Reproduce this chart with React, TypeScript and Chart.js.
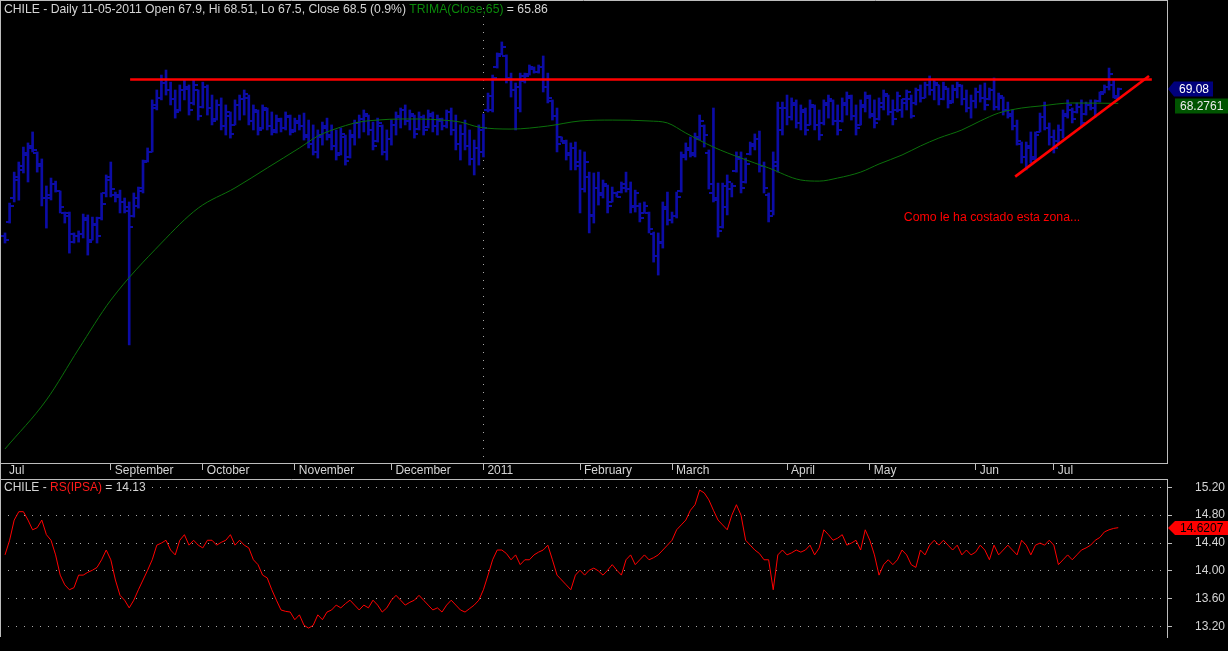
import React, { useEffect, useRef } from 'react';
import { Chart, registerables } from 'chart.js';

Chart.register(...registerables);

// ---------- DATA ----------
const OPEN = [
  60.9, 61.7, 63.0, 64.0, 64.6, 65.5, 65.8, 65.5, 64.9, 63.0, 63.0, 63.8, 63.4, 62.2, 62.2, 60.6, 60.9, 61.0, 61.8, 60.7, 61.5, 61.9, 63.3, 64.0, 63.2, 63.2, 62.8, 62.3, 62.0, 62.6, 63.6, 65.1, 65.6, 68.2,
  68.6, 69.4, 69.0, 68.5, 67.9, 69.0, 69.1, 68.3, 69.0, 68.1, 69.2, 68.0, 67.4, 68.2, 67.0, 67.6, 67.1, 68.2, 68.5, 68.6, 67.3, 67.8, 66.9, 67.9, 67.0, 66.8, 67.3, 66.9, 67.5, 66.8, 67.2, 67.0, 66.5, 66.0, 65.6, 66.4, 66.9, 66.5, 65.9, 65.5, 66.4, 65.3, 66.4, 67.2, 67.4, 67.6, 66.8, 66.2, 67.0, 65.6, 66.3, 67.1, 67.5, 67.9, 67.3, 67.6, 66.85, 67.5, 66.95, 67.6, 67.0, 67.3, 67.0, 67.8, 66.8, 66.0, 66.6, 65.9, 65.2, 65.8,
  65.6, 67.9, 67.9, 70.3, 71.0, 70.9, 69.7, 69.0, 68.0, 69.5, 69.9, 70.2, 70.0, 70.3, 69.2, 68.4, 67.6, 66.4, 66.1, 65.5, 65.8, 65.0, 63.5, 64.2, 62.1, 63.6, 63.3, 63.7, 62.8, 63.3, 63.35, 63.6, 63.5, 62.5, 62.6, 62.2, 62.2, 61.0, 59.8, 60.5, 62.4, 61.8, 62.0, 63.4, 65.3, 65.7, 65.5, 66.3, 67.0, 65.5, 63.3, 63.0, 61.4, 62.5, 63.5, 64.5, 65.2, 63.9, 65.45, 65.9, 66.3, 64.8, 63.2, 62.3, 64.8,
  66.8, 68.0, 67.5, 68.2, 67.2, 67.8, 67.1, 68.1, 67.1, 67.2, 68.2, 68.4, 67.3, 67.3, 68.2, 68.6, 67.6, 67.1, 68.1, 68.6, 67.6, 67.4, 68.1, 68.7, 67.8, 67.9, 67.9, 68.3, 68.5, 68.3, 69.0, 68.6, 69.3, 69.0, 69.3, 68.5, 69.1, 68.4, 69.0, 69.25, 68.5, 68.0, 68.4, 68.9,
  68.6, 68.5, 69.0, 68.1, 68.6, 67.9, 67.6, 67.0, 66.0, 65.3, 65.8, 65.3, 66.7, 67.5, 66.9, 66.4, 66.2, 66.8, 67.6, 67.9, 67.8, 68.1, 67.7, 68.2, 68.0, 68.4, 68.9, 69.2, 69.3, 68.6,
];
const HIGH = [
  61.08, 62.74, 64.46, 65.02, 65.85, 66.08, 66.69, 65.58, 65.19, 63.69, 64.13, 63.96, 63.41, 62.24, 62.24, 61.08, 61.19, 62.13, 62.08, 61.96, 61.96, 63.3, 64.3, 65.02, 63.35, 63.46, 63.02, 62.8, 63.3, 63.63, 65.13, 65.8, 68.47, 69.02,
  69.85, 70.13, 69.46, 69.02, 69.30, 69.58, 69.30, 69.58, 69.02, 69.46, 69.30, 68.74, 68.47, 68.58, 68.19, 67.80, 68.47, 68.74, 69.02, 68.74, 68.19, 67.91, 68.19, 68.02, 67.80, 67.63, 67.46, 67.80, 67.63, 67.46, 67.63, 67.74, 67.35, 67.08, 66.80, 67.24, 67.46, 67.08, 66.80, 66.91, 66.52, 66.80, 67.35, 67.63, 67.91, 67.63, 67.24, 67.46, 67.08, 66.80, 67.35, 67.80, 68.02, 68.19, 67.91, 67.63, 67.80, 67.63, 67.91, 67.80, 67.63, 67.46, 67.91, 68.02, 67.63, 67.08, 67.35, 66.80, 66.24, 67.08,
  67.69, 68.85, 69.85, 71.08, 71.69, 70.97, 69.96, 69.41, 69.96, 69.96, 70.41, 70.30, 70.41, 70.91, 69.96, 68.47, 68.02, 66.41, 66.24, 66.08, 66.13, 65.69, 65.58, 64.46, 64.41, 64.46, 64.02, 63.74, 63.63, 63.35, 63.91, 64.46, 63.91, 63.46, 62.74, 62.80, 62.24, 61.13, 61.08, 62.80, 63.35, 62.24, 63.35, 65.58, 66.08, 66.41, 66.63, 67.63, 67.08, 65.69, 68.02, 63.85, 63.85, 64.30, 63.85, 65.58, 65.58, 65.24, 66.13, 66.58, 66.74, 65.02, 63.30, 65.58, 68.35,
  68.35, 68.74, 68.58, 68.47, 68.19, 68.02, 68.47, 68.19, 67.91, 68.47, 68.74, 68.47, 68.19, 68.58, 68.91, 68.74, 68.19, 68.47, 68.91, 68.74, 68.47, 68.58, 69.02, 68.74, 68.47, 68.91, 68.51, 69.02, 68.74, 69.13, 69.30, 69.46, 69.80, 69.58, 69.30, 69.46, 69.13, 69.30, 69.46, 69.30, 69.02, 68.74, 69.13, 69.30,
  69.41, 69.13, 69.69, 68.85, 68.63, 68.35, 67.91, 67.35, 66.13, 66.13, 66.69, 66.69, 67.74, 68.35, 67.19, 66.80, 67.08, 67.91, 68.47, 68.02, 68.30, 68.47, 68.35, 68.47, 68.47, 68.91, 69.30, 70.24, 69.58, 69.13,
];
const LOW = [
  60.52, 61.63, 62.8, 62.9, 64.41, 63.91, 65.58, 64.46, 62.58, 61.35, 62.91, 63.35, 62.19, 61.63, 59.96, 60.52, 60.57, 60.8, 59.85, 60.69, 60.52, 61.8, 63.08, 63.08, 62.8, 62.19, 62.19, 54.86, 61.96, 62.46, 63.3, 65.02, 65.58, 67.91,
  68.47, 68.74, 68.19, 67.46, 67.85, 68.47, 67.63, 68.19, 67.35, 68.02, 67.63, 67.08, 67.35, 66.80, 66.52, 66.35, 67.08, 67.35, 67.63, 67.08, 66.80, 66.52, 66.85, 66.80, 66.52, 66.63, 66.69, 66.80, 66.52, 66.69, 66.80, 66.24, 65.80, 65.41, 65.24, 65.96, 66.24, 65.69, 65.13, 65.41, 64.85, 65.24, 65.96, 66.35, 66.69, 66.52, 65.69, 66.13, 65.41, 65.13, 65.96, 66.52, 66.91, 67.08, 66.80, 66.35, 66.80, 66.52, 66.91, 66.69, 66.52, 66.80, 66.91, 66.52, 65.69, 65.13, 65.69, 64.85, 64.30, 64.85,
  65.30, 67.80, 67.80, 70.24, 70.97, 69.41, 68.63, 66.80, 67.80, 69.41, 69.85, 69.96, 69.96, 68.91, 68.30, 67.35, 65.58, 66.13, 65.13, 64.58, 64.58, 62.19, 63.35, 61.08, 61.63, 62.63, 63.02, 62.19, 62.80, 63.08, 63.30, 63.35, 62.19, 62.24, 61.69, 62.19, 61.08, 59.46, 58.74, 60.24, 61.52, 61.63, 61.91, 63.35, 65.13, 65.30, 65.30, 66.24, 65.85, 63.52, 62.80, 60.85, 61.35, 62.08, 63.08, 64.46, 63.30, 63.85, 65.41, 65.69, 64.46, 63.30, 61.69, 62.08, 64.46,
  66.52, 67.08, 67.35, 66.91, 66.80, 66.52, 67.08, 66.80, 66.24, 67.08, 67.46, 67.08, 66.52, 67.24, 67.63, 67.35, 66.52, 67.08, 67.80, 67.46, 66.91, 67.35, 67.91, 67.63, 67.08, 67.80, 67.50, 67.91, 67.46, 68.19, 68.35, 68.58, 68.74, 68.47, 68.19, 68.47, 68.02, 68.30, 68.58, 68.19, 67.80, 67.46, 68.02, 68.35,
  67.91, 68.47, 67.91, 67.91, 67.63, 67.46, 66.80, 65.96, 64.96, 64.58, 64.96, 65.13, 66.69, 66.80, 65.96, 65.52, 66.08, 66.35, 67.46, 67.19, 67.74, 66.96, 67.63, 67.91, 67.52, 68.35, 68.85, 69.02, 68.58, 68.52,
];
const CLOSE = [
  60.7, 62.6, 64.2, 64.8, 65.4, 65.9, 65.7, 64.8, 63.0, 63.2, 63.8, 63.4, 62.5, 62.0, 61.0, 60.9, 61.0, 61.9, 60.6, 61.6, 60.9, 62.7, 64.2, 63.5, 63.1, 62.8, 62.5, 61.4, 63.0, 63.4, 65.0, 65.6, 68.0, 68.6,
  69.4, 69.0, 68.5, 67.8, 69.0, 69.2, 67.9, 69.3, 67.6, 69.2, 68.0, 67.3, 68.2, 67.0, 67.8, 66.6, 68.2, 68.5, 68.8, 67.3, 67.9, 66.8, 68.0, 67.0, 66.7, 67.4, 66.9, 67.6, 66.7, 67.3, 67.0, 66.4, 66.0, 65.6, 66.5, 67.0, 66.4, 65.9, 65.4, 66.6, 65.1, 66.5, 67.2, 67.4, 67.7, 66.8, 65.9, 67.2, 65.6, 66.3, 67.1, 67.6, 67.9, 67.3, 67.7, 66.6, 67.5, 66.8, 67.7, 67.0, 67.4, 67.0, 67.8, 66.8, 66.0, 66.6, 65.9, 65.2, 65.8, 66.8,
  66.9, 68.7, 69.7, 70.9, 71.4, 69.6, 69.0, 69.2, 69.8, 69.8, 70.3, 70.0, 70.3, 69.2, 68.6, 67.6, 66.0, 66.2, 65.4, 65.8, 64.8, 63.5, 65.0, 62.0, 63.6, 63.2, 63.8, 62.6, 63.3, 63.1, 63.8, 63.5, 62.6, 63.3, 61.9, 62.6, 61.3, 59.8, 60.6, 62.5, 61.8, 62.0, 63.1, 65.4, 65.8, 65.4, 66.4, 67.3, 66.5, 63.8, 62.9, 61.2, 63.7, 63.9, 63.7, 65.3, 63.6, 64.9, 66.0, 66.3, 64.8, 63.6, 62.0, 65.0, 68.0,
  68.0, 67.5, 68.3, 67.2, 67.9, 66.8, 68.2, 67.1, 66.5, 68.3, 68.5, 67.3, 66.8, 68.3, 68.7, 67.6, 66.9, 68.2, 68.7, 67.7, 67.2, 68.3, 68.8, 67.8, 67.4, 68.7, 68.5, 68.9, 67.6, 69.0, 68.6, 69.3, 69.0, 69.4, 68.5, 69.2, 68.3, 69.1, 69.3, 68.5, 68.0, 68.4, 68.9, 68.6,
  68.2, 69.0, 68.1, 68.7, 67.9, 67.7, 67.0, 66.2, 65.3, 65.9, 65.2, 66.5, 67.5, 66.9, 66.4, 65.8, 66.8, 67.7, 68.2, 67.4, 68.1, 67.2, 68.2, 68.0, 68.4, 68.8, 69.2, 69.9, 68.7, 69.08,
];

const TRIMA_IDX = [0, 9, 16, 23, 34, 42, 50, 57, 64, 68, 73, 77, 81, 86, 90, 95, 99, 103, 110, 118, 125, 132, 140, 144, 148, 154, 160, 166, 173, 177, 181, 186, 190, 195, 199, 203, 208, 212, 216, 221, 225, 232, 242];
const TRIMA_VAL = [49.08, 51.8, 54.63, 57.35, 60.52, 62.46, 63.58, 64.69, 65.8, 66.46, 66.96, 67.24, 67.35, 67.41, 67.41, 67.35, 67.24, 66.96, 66.85, 67.02, 67.3, 67.35, 67.3, 67.19, 66.63, 65.85, 65.24, 64.69, 64.02, 63.96, 64.13, 64.46, 64.91, 65.41, 65.91, 66.35, 66.8, 67.3, 67.74, 68.02, 68.13, 68.3, 68.2761];

const RS = [
  14.23, 14.44, 14.73, 14.85, 14.85, 14.73, 14.59, 14.62,
  14.73, 14.52, 14.44, 14.23, 13.94, 13.80, 13.73, 13.76, 13.94, 13.94, 13.98, 14.01, 14.05,
  14.16, 14.30, 14.16, 13.87, 13.65, 13.58, 13.47, 13.58, 13.73, 13.87, 14.01, 14.16, 14.37, 14.40,
  14.44, 14.30, 14.23, 14.44, 14.52, 14.37, 14.44, 14.37, 14.33, 14.44, 14.44, 14.37, 14.41,
  14.44, 14.52, 14.37, 14.44, 14.37, 14.33, 14.16, 14.09, 13.94, 13.90, 13.73, 13.58, 13.44, 13.42,
  13.41, 13.30, 13.37, 13.22, 13.18, 13.22, 13.37, 13.30, 13.41, 13.44, 13.51, 13.47, 13.53,
  13.58, 13.51, 13.44, 13.51, 13.47, 13.58, 13.51, 13.41, 13.47, 13.58, 13.65, 13.58, 13.51, 13.55,
  13.58, 13.65, 13.58, 13.51, 13.44, 13.47, 13.41, 13.51, 13.58, 13.51, 13.44, 13.41, 13.46,
  13.51, 13.58, 13.73, 13.94, 14.16, 14.30, 14.30, 14.25,
  14.16, 14.23, 14.09, 14.16, 14.16, 14.23, 14.27,
  14.30, 14.37, 14.16, 13.94, 13.87, 13.80, 13.73, 13.94, 14.01, 13.94, 14.01, 14.04, 14.00,
  13.94, 14.01, 14.09, 14.01, 13.94, 14.16, 14.23, 14.09, 14.16, 14.23, 14.16, 14.19, 14.23, 14.30,
  14.37, 14.44, 14.59, 14.66, 14.73, 14.87, 14.95, 15.16, 15.12, 15.02, 14.87, 14.73, 14.66,
  14.59, 14.80, 14.95, 14.80, 14.44, 14.37, 14.30, 14.25,
  14.16, 14.16, 13.73, 14.23, 14.30, 14.23, 14.26,
  14.30, 14.27, 14.30, 14.37, 14.23, 14.33, 14.59, 14.52, 14.44, 14.47, 14.52, 14.37, 14.40,
  14.44, 14.30, 14.59, 14.44, 14.23, 13.94, 14.09, 14.16, 14.09, 14.16, 14.30, 14.23, 14.09, 14.05,
  14.30, 14.23, 14.37, 14.44, 14.37, 14.44, 14.37, 14.30, 14.37, 14.23, 14.30, 14.23, 14.27,
  14.37, 14.30, 14.16, 14.37, 14.23, 14.30, 14.37, 14.30, 14.23, 14.44, 14.37, 14.23, 14.37, 14.40,
  14.37, 14.44, 14.37, 14.09, 14.16, 14.23, 14.16, 14.23, 14.30, 14.33, 14.37, 14.44, 14.48,
  14.56, 14.59, 14.61, 14.6207,
];

const MONTH_IDX = [0, 23, 43, 63, 84, 104, 125, 145, 170, 188, 211, 228];
const MONTH_LABELS = ['Jul', 'September', 'October', 'November', 'December', '2011', 'February', 'March', 'April', 'May', 'Jun', 'Jul'];
const YEAR_IDX = 104;
const RS_TICKS = [13.2, 13.6, 14.0, 14.4, 14.8, 15.2];

const RESIST_IDX = [27.2, 249.3];
const RESIST_VAL = [69.6, 69.6];
const TREND_IDX = [219.6, 248.7];
const TREND_VAL = [64.21, 69.8];

const NOTE_TEXT = 'Como le ha costado esta zona...';
const NOTE_IDX = 195.4;
const NOTE_VAL = 61.91;

const TITLE_PARTS: [string, string][] = [
  ['CHILE - Daily 11-05-2011 Open 67.9, Hi 68.51, Lo 67.5, Close 68.5 (0.9%) ', '#d4d4d4'],
  ['TRIMA(Close,65)', '#0a8a0a'],
  [' = 65.86', '#d4d4d4'],
];
const RS_TITLE_PARTS: [string, string][] = [
  ['CHILE - ', '#d4d4d4'],
  ['RS(IPSA)', '#ff1a1a'],
  [' = 14.13', '#d4d4d4'],
];

const X_MIN = -1.087;
const X_MAX = 252.6;
const PRICE_MIN = 48.3;
const PRICE_MAX = 74.02;
const RS_MIN = 13.052;
const RS_MAX = 15.319;

// ---------- STYLE ----------
const FONT_FAMILY = '"Liberation Sans", Arial, sans-serif';
const FONT = '12px ' + FONT_FAMILY;
const TITLE_FONT = '12.2px ' + FONT_FAMILY;
const NOTE_FONT = '12.3px ' + FONT_FAMILY;
const BAR_COLOR = '#0c0ca6';
const LINE_GRAY = '#bdbdbd';
const TEXT_GRAY = '#d4d4d4';

function tickImage(side: 'left' | 'right') {
  const c = document.createElement('canvas');
  c.width = 8;
  c.height = 2;
  const g = c.getContext('2d')!;
  g.fillStyle = BAR_COLOR;
  g.fillRect(side === 'left' ? 0 : 4, 0, 4, 2);
  return c;
}

function drawParts(ctx: CanvasRenderingContext2D, parts: [string, string][], x: number, y: number, font: string, clearBg: boolean) {
  ctx.font = font;
  ctx.textBaseline = 'middle';
  ctx.textAlign = 'left';
  if (clearBg) {
    let w = 0;
    for (const [t] of parts) w += ctx.measureText(t).width;
    ctx.fillStyle = '#000000';
    ctx.fillRect(x - 2, y - 7, w + 4, 14);
  }
  let tx = x;
  for (const [t, c] of parts) {
    ctx.fillStyle = c;
    ctx.fillText(t, tx, y);
    tx += ctx.measureText(t).width;
  }
}

function arrowTag(ctx: CanvasRenderingContext2D, tipX: number, bodyX: number, right: number, cy: number, h: number, fill: string, text: string, color: string, textX: number, arrow: boolean) {
  ctx.fillStyle = fill;
  ctx.beginPath();
  if (arrow) {
    ctx.moveTo(tipX, cy);
    ctx.lineTo(bodyX, cy - h / 2);
  } else {
    ctx.moveTo(bodyX, cy - h / 2);
  }
  ctx.lineTo(right, cy - h / 2);
  ctx.lineTo(right, cy + h / 2);
  ctx.lineTo(bodyX, cy + h / 2);
  ctx.closePath();
  ctx.fill();
  ctx.font = FONT;
  ctx.fillStyle = color;
  ctx.textBaseline = 'middle';
  ctx.textAlign = 'left';
  ctx.fillText(text, textX, cy + 0.5);
}

const topDecor = {
  id: 'topDecor',
  afterDraw(chart: any) {
    const { ctx, chartArea: a, scales } = chart;
    const x = scales.x;
    const y = scales.y;
    ctx.save();
    ctx.strokeStyle = LINE_GRAY;
    ctx.lineWidth = 1;
    ctx.beginPath();
    ctx.moveTo(0, 0.5);
    ctx.lineTo(a.right, 0.5);
    ctx.moveTo(0.5, 0);
    ctx.lineTo(0.5, chart.height);
    ctx.stroke();

    drawParts(ctx, TITLE_PARTS, 4, 10, TITLE_FONT, false);

    ctx.fillStyle = '#ff0000';
    ctx.font = NOTE_FONT;
    ctx.textBaseline = 'middle';
    ctx.textAlign = 'left';
    ctx.fillText(NOTE_TEXT, x.getPixelForValue(NOTE_IDX), y.getPixelForValue(NOTE_VAL));

    const lastClose = CLOSE[CLOSE.length - 1];
    const lastTrima = TRIMA_VAL[TRIMA_VAL.length - 1];
    const cy = Math.round(y.getPixelForValue(lastClose));
    const ty = Math.max(Math.round(y.getPixelForValue(lastTrima)), cy + 17);
    arrowTag(ctx, a.right + 1, a.right + 7, a.right + 46, cy, 15, '#00007c', lastClose.toFixed(2), '#ffffff', a.right + 12, true);
    arrowTag(ctx, a.right + 8, a.right + 8, chart.width, ty, 15, '#005400', lastTrima.toFixed(4), '#eaeaea', a.right + 13, false);
    ctx.restore();
  },
};

const botDecor = {
  id: 'botDecor',
  afterDraw(chart: any) {
    const { ctx, chartArea: a, scales } = chart;
    const y = scales.y;
    ctx.save();
    ctx.strokeStyle = LINE_GRAY;
    ctx.lineWidth = 1;
    ctx.beginPath();
    ctx.moveTo(0, 0.5);
    ctx.lineTo(a.right, 0.5);
    ctx.moveTo(0.5, 0);
    ctx.lineTo(0.5, a.bottom);
    ctx.stroke();

    drawParts(ctx, RS_TITLE_PARTS, 4, 9, FONT, true);

    const last = RS[RS.length - 1];
    const cy = Math.round(y.getPixelForValue(last));
    arrowTag(ctx, a.right + 1, a.right + 8, chart.width, cy, 14, '#ff0000', last.toFixed(4), '#000000', a.right + 13, true);
    ctx.restore();
  },
};

export default function App() {
  const topRef = useRef<HTMLCanvasElement>(null);
  const botRef = useRef<HTMLCanvasElement>(null);

  useEffect(() => {
    Chart.defaults.font.family = FONT_FAMILY;
    Chart.defaults.font.size = 12;
    const openImg = tickImage('left');
    const closeImg = tickImage('right');

    const top = new Chart(topRef.current!, {
      type: 'bar',
      data: {
        datasets: [
          {
            type: 'line',
            data: RESIST_IDX.map((v, i) => ({ x: v, y: RESIST_VAL[i] })),
            borderColor: '#ff0000',
            borderWidth: 2.6,
            pointRadius: 0,
            order: 0,
          },
          {
            type: 'line',
            data: TREND_IDX.map((v, i) => ({ x: v, y: TREND_VAL[i] })),
            borderColor: '#ff0000',
            borderWidth: 2.6,
            pointRadius: 0,
            order: 0,
          },
          {
            type: 'line',
            data: TRIMA_IDX.map((v, i) => ({ x: v, y: TRIMA_VAL[i] })),
            borderColor: '#0b700b',
            borderWidth: 1,
            pointRadius: 0,
            cubicInterpolationMode: 'monotone',
            order: 1,
          },
          {
            type: 'line',
            data: OPEN.map((v, i) => ({ x: i, y: v })),
            showLine: false,
            pointStyle: openImg,
            pointRadius: 3,
            order: 2,
          },
          {
            type: 'line',
            data: CLOSE.map((v, i) => ({ x: i, y: v })),
            showLine: false,
            pointStyle: closeImg,
            pointRadius: 3,
            order: 2,
          },
          {
            type: 'bar',
            data: OPEN.map((_, i) => ({ x: i, y: [LOW[i], HIGH[i]] })),
            backgroundColor: BAR_COLOR,
            borderWidth: 0,
            barThickness: 2,
            order: 3,
          },
        ] as any,
      },
      options: {
        responsive: false,
        maintainAspectRatio: false,
        animation: false,
        devicePixelRatio: 1,
        events: [],
        layout: { padding: 0, autoPadding: false },
        plugins: { legend: { display: false }, tooltip: { enabled: false } },
        scales: {
          x: {
            type: 'linear',
            min: X_MIN,
            max: X_MAX,
            offset: false,
            afterBuildTicks: (s: any) => {
              s.ticks = MONTH_IDX.map((v) => ({ value: v }));
            },
            afterFit: (s: any) => {
              s.height = 16;
              s.paddingLeft = 0;
              s.paddingRight = 0;
            },
            ticks: {
              autoSkip: false,
              maxRotation: 0,
              minRotation: 0,
              align: 'start',
              labelOffset: 4,
              padding: -7,
              color: TEXT_GRAY,
              font: { size: 12 },
              callback: (_v: any, i: number) => MONTH_LABELS[i],
            },
            grid: {
              display: true,
              drawOnChartArea: true,
              drawTicks: true,
              tickLength: 7,
              offset: false,
              color: (c: any) => (c.tick && c.tick.value === YEAR_IDX ? '#a8a8a8' : 'rgba(0,0,0,0)'),
              tickColor: (c: any) => (c.tick && c.tick.value === MONTH_IDX[0] ? 'rgba(0,0,0,0)' : LINE_GRAY),
            },
            border: { display: true, color: LINE_GRAY, width: 1, dash: [1, 7] },
          },
          y: {
            type: 'linear',
            position: 'right',
            min: PRICE_MIN,
            max: PRICE_MAX,
            ticks: { display: false },
            grid: { display: false, drawTicks: false },
            border: { display: true, color: LINE_GRAY, width: 1 },
            afterFit: (s: any) => {
              s.width = 61;
              s.paddingTop = 0;
              s.paddingBottom = 0;
            },
          },
        },
      } as any,
      plugins: [topDecor],
    });

    const bot = new Chart(botRef.current!, {
      type: 'line',
      data: {
        datasets: [
          {
            data: RS.map((v, i) => ({ x: i, y: v })),
            borderColor: '#ff0000',
            borderWidth: 1,
            pointRadius: 0,
          },
        ],
      },
      options: {
        responsive: false,
        maintainAspectRatio: false,
        animation: false,
        devicePixelRatio: 1,
        events: [],
        layout: { padding: { top: 0, left: 0, right: 0, bottom: 14 }, autoPadding: false },
        plugins: { legend: { display: false }, tooltip: { enabled: false } },
        scales: {
          x: { type: 'linear', min: X_MIN, max: X_MAX, display: false },
          y: {
            type: 'linear',
            position: 'right',
            min: RS_MIN,
            max: RS_MAX,
            afterBuildTicks: (s: any) => {
              s.ticks = RS_TICKS.map((v) => ({ value: v }));
            },
            afterFit: (s: any) => {
              s.width = 61;
              s.paddingTop = 0;
              s.paddingBottom = 0;
            },
            ticks: {
              color: TEXT_GRAY,
              padding: 23,
              font: { size: 12 },
              callback: (v: any) => Number(v).toFixed(2),
            },
            grid: { color: '#a8a8a8', tickColor: LINE_GRAY, tickLength: 5, drawTicks: true },
            border: { display: true, color: LINE_GRAY, width: 1, dash: [1, 7] },
          },
        },
      } as any,
      plugins: [botDecor],
    });

    return () => {
      top.destroy();
      bot.destroy();
    };
  }, []);

  return (
    <div style={{ position: 'absolute', left: 0, top: 0, width: 1228, height: 651, background: '#000', overflow: 'hidden' }}>
      <canvas ref={topRef} width={1228} height={479} style={{ display: 'block', width: 1228, height: 479 }} />
      <canvas ref={botRef} width={1228} height={172} style={{ display: 'block', width: 1228, height: 172 }} />
    </div>
  );
}
